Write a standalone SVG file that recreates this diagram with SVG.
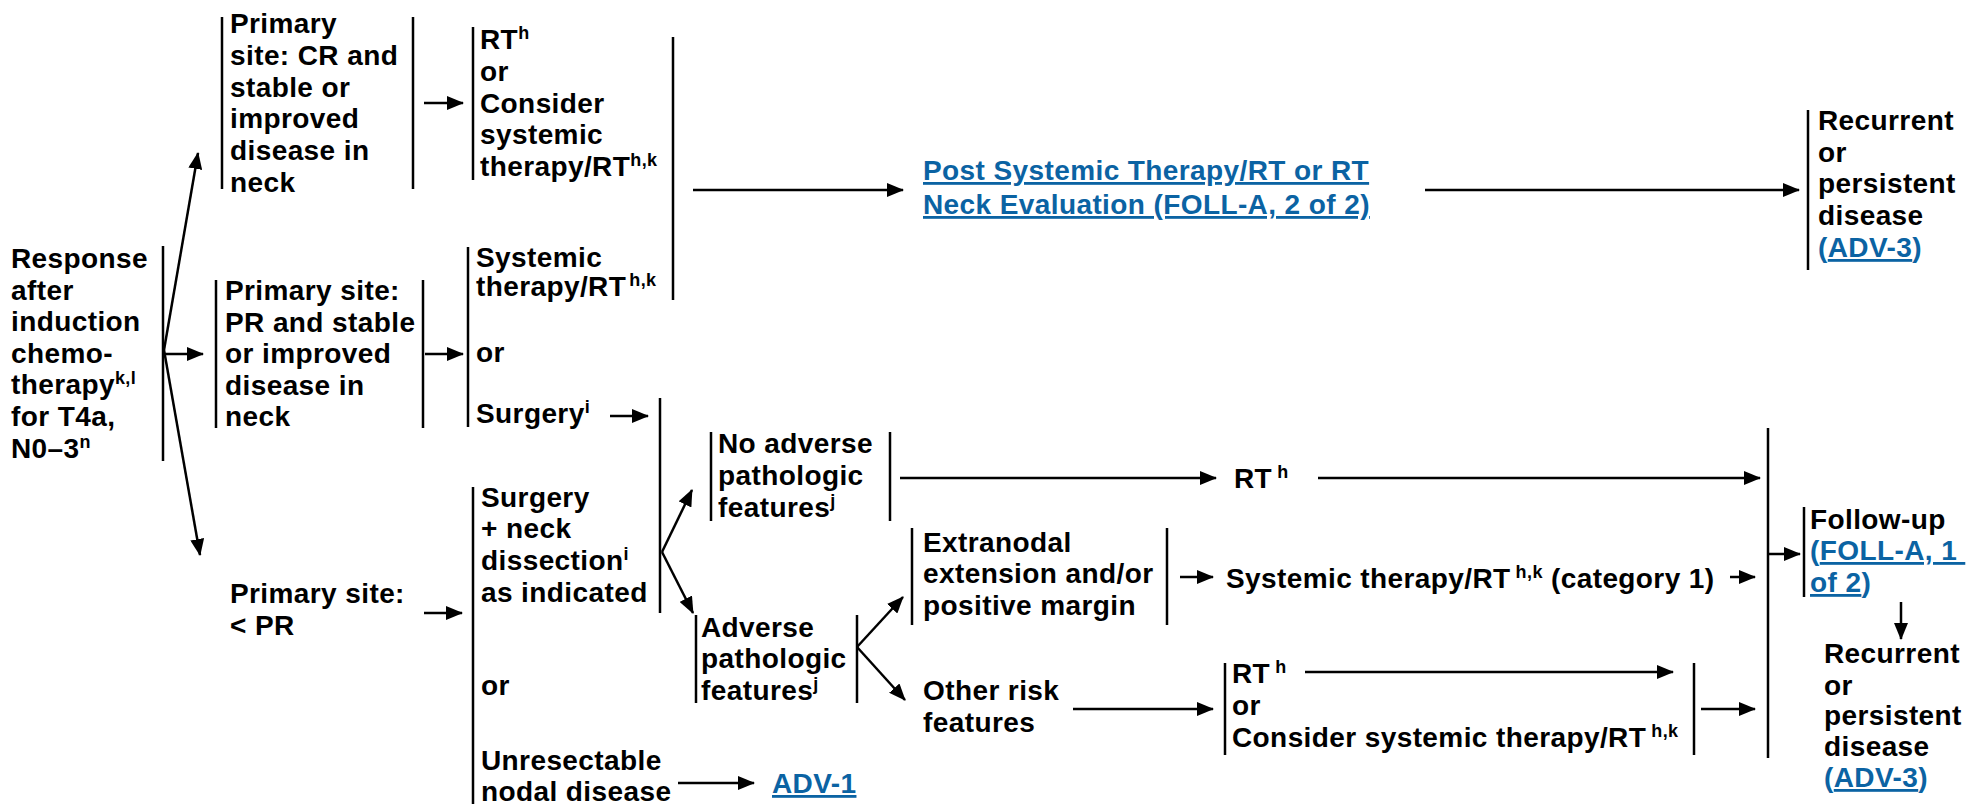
<svg xmlns="http://www.w3.org/2000/svg" width="1969" height="804" viewBox="0 0 1969 804">
<style>
.t{font-family:"Liberation Sans",Arial,Helvetica,sans-serif;font-weight:bold;font-size:28px;fill:#000;letter-spacing:0.4px}
.s{font-size:18px}
.b{fill:#0b63a3}
.u{text-decoration:underline}
.br{stroke:#000;stroke-width:2.5;fill:none}
.ar{stroke:#000;stroke-width:2.5;fill:none;marker-end:url(#ah)}
</style>
<defs>
<marker id="ah" markerUnits="userSpaceOnUse" markerWidth="17" markerHeight="14" refX="16" refY="7" orient="auto">
<path d="M0,0 L17,7 L0,14 z" fill="#000"/>
</marker>
</defs>
<rect width="1969" height="804" fill="#fff"/>

<g id="n-response">
<line class="br" x1="163" y1="246" x2="163" y2="461"/>
<text class="t" x="11" y="268">Response</text>
<text class="t" x="11" y="300">after</text>
<text class="t" x="11" y="331">induction</text>
<text class="t" x="11" y="363">chemo-</text>
<text class="t" x="11" y="394">therapy<tspan class="s" dy="-10">k,l</tspan></text>
<text class="t" x="11" y="426">for T4a,</text>
<text class="t" x="11" y="458">N0–3<tspan class="s" dy="-10">n</tspan></text>
</g>

<g id="n-cr">
<line class="br" x1="222" y1="17" x2="222" y2="189"/>
<line class="br" x1="413" y1="17" x2="413" y2="189"/>
<text class="t" x="230" y="33">Primary</text>
<text class="t" x="230" y="65">site: CR and</text>
<text class="t" x="230" y="97">stable or</text>
<text class="t" x="230" y="128">improved</text>
<text class="t" x="230" y="160">disease in</text>
<text class="t" x="230" y="192">neck</text>
</g>

<g id="n-cr-rt">
<line class="br" x1="473" y1="27" x2="473" y2="180"/>
<text class="t" x="480" y="49">RT<tspan class="s" dy="-10">h</tspan></text>
<text class="t" x="480" y="81">or</text>
<text class="t" x="480" y="113">Consider</text>
<text class="t" x="480" y="144">systemic</text>
<text class="t" x="480" y="176">therapy/RT<tspan class="s" dy="-10">h,k</tspan></text>
</g>

<g id="n-pr">
<line class="br" x1="216" y1="280" x2="216" y2="428"/>
<line class="br" x1="423" y1="280" x2="423" y2="428"/>
<text class="t" x="225" y="300">Primary site:</text>
<text class="t" x="225" y="332">PR and stable</text>
<text class="t" x="225" y="363">or improved</text>
<text class="t" x="225" y="395">disease in</text>
<text class="t" x="225" y="426">neck</text>
</g>

<g id="n-pr-tx">
<line class="br" x1="468" y1="247" x2="468" y2="427"/>
<text class="t" x="476" y="267">Systemic</text>
<text class="t" x="476" y="296">therapy/RT<tspan class="s" dx="3" dy="-10">h,k</tspan></text>
<text class="t" x="476" y="362">or</text>
<text class="t" x="476" y="423">Surgery<tspan class="s" dy="-10">i</tspan></text>
</g>

<g id="n-bracket-top">
<line class="br" x1="673" y1="37" x2="673" y2="300"/>
</g>

<g id="n-post-eval">
<text class="t b u" x="923" y="180">Post Systemic Therapy/RT or RT</text>
<text class="t b u" x="923" y="214">Neck Evaluation (FOLL-A, 2 of 2)</text>
</g>

<g id="n-recur-top">
<line class="br" x1="1808" y1="110" x2="1808" y2="270"/>
<text class="t" x="1818" y="130">Recurrent</text>
<text class="t" x="1818" y="162">or</text>
<text class="t" x="1818" y="193">persistent</text>
<text class="t" x="1818" y="225">disease</text>
<text class="t b" x="1818" y="257">(<tspan class="u">ADV-3</tspan>)</text>
</g>

<g id="n-lesspr">
<text class="t" x="230" y="603">Primary site:</text>
<text class="t" x="230" y="635">&lt; PR</text>
</g>

<g id="n-surgery-neck">
<line class="br" x1="473" y1="487" x2="473" y2="804"/>
<text class="t" x="481" y="507">Surgery</text>
<text class="t" x="481" y="538">+ neck</text>
<text class="t" x="481" y="570">dissection<tspan class="s" dy="-10">i</tspan></text>
<text class="t" x="481" y="602">as indicated</text>
<text class="t" x="481" y="695">or</text>
<text class="t" x="481" y="770">Unresectable</text>
<text class="t" x="481" y="801">nodal disease</text>
</g>

<g id="n-surg-bracket">
<line class="br" x1="660" y1="398" x2="660" y2="613"/>
</g>

<g id="n-adv1">
<text class="t b u" x="772" y="793">ADV-1</text>
</g>

<g id="n-noadverse">
<line class="br" x1="711" y1="432" x2="711" y2="521"/>
<line class="br" x1="890" y1="432" x2="890" y2="521"/>
<text class="t" x="718" y="453">No adverse</text>
<text class="t" x="718" y="485">pathologic</text>
<text class="t" x="718" y="517">features<tspan class="s" dy="-10">j</tspan></text>
</g>

<g id="n-rt-mid">
<text class="t" x="1234" y="488">RT<tspan class="s" dx="5" dy="-10">h</tspan></text>
</g>

<g id="n-adverse">
<line class="br" x1="696" y1="615" x2="696" y2="703"/>
<line class="br" x1="857" y1="615" x2="857" y2="703"/>
<text class="t" x="701" y="637">Adverse</text>
<text class="t" x="701" y="668">pathologic</text>
<text class="t" x="701" y="700">features<tspan class="s" dy="-10">j</tspan></text>
</g>

<g id="n-extranodal">
<line class="br" x1="912" y1="528" x2="912" y2="625"/>
<line class="br" x1="1167" y1="528" x2="1167" y2="625"/>
<text class="t" x="923" y="552">Extranodal</text>
<text class="t" x="923" y="583">extension and/or</text>
<text class="t" x="923" y="615">positive margin</text>
</g>

<g id="n-cat1">
<text class="t" x="1226" y="588">Systemic therapy/RT<tspan class="s" dx="5" dy="-10">h,k</tspan><tspan dy="10"> (category 1)</tspan></text>
</g>

<g id="n-other">
<text class="t" x="923" y="700">Other risk</text>
<text class="t" x="923" y="732">features</text>
</g>

<g id="n-other-tx">
<line class="br" x1="1225" y1="663" x2="1225" y2="755"/>
<line class="br" x1="1694" y1="663" x2="1694" y2="755"/>
<text class="t" x="1232" y="683">RT<tspan class="s" dx="5" dy="-10">h</tspan></text>
<text class="t" x="1232" y="715">or</text>
<text class="t" x="1232" y="747">Consider systemic therapy/RT<tspan class="s" dx="5" dy="-10">h,k</tspan></text>
</g>

<g id="n-follow-bracket">
<line class="br" x1="1768" y1="428" x2="1768" y2="758"/>
</g>

<g id="n-followup">
<line class="br" x1="1804" y1="507" x2="1804" y2="597"/>
<text class="t" x="1810" y="529">Follow-up</text>
<text class="t b" x="1810" y="560">(<tspan class="u">FOLL-A, 1&#160;</tspan></text>
<text class="t b" x="1810" y="592"><tspan class="u">of 2</tspan>)</text>
</g>

<g id="n-recur-bottom">
<text class="t" x="1824" y="663">Recurrent</text>
<text class="t" x="1824" y="695">or</text>
<text class="t" x="1824" y="725">persistent</text>
<text class="t" x="1824" y="756">disease</text>
<text class="t b" x="1824" y="787">(<tspan class="u">ADV-3</tspan>)</text>
</g>

<g id="connectors">
<line class="ar" x1="164" y1="350" x2="198" y2="153"/>
<line class="ar" x1="164" y1="354" x2="203" y2="354"/>
<line class="ar" x1="164" y1="350" x2="200" y2="555"/>
<line class="ar" x1="424" y1="103" x2="463" y2="103"/>
<line class="ar" x1="425" y1="354" x2="463" y2="354"/>
<line class="ar" x1="693" y1="190" x2="903" y2="190"/>
<line class="ar" x1="1425" y1="190" x2="1799" y2="190"/>
<line class="ar" x1="610" y1="416" x2="648" y2="416"/>
<line class="ar" x1="424" y1="613" x2="462" y2="613"/>
<line class="ar" x1="662" y1="552" x2="692" y2="490"/>
<line class="ar" x1="662" y1="552" x2="693" y2="613"/>
<line class="ar" x1="678" y1="783" x2="754" y2="783"/>
<line class="ar" x1="900" y1="478" x2="1216" y2="478"/>
<line class="ar" x1="1318" y1="478" x2="1760" y2="478"/>
<line class="ar" x1="857" y1="647" x2="903" y2="597"/>
<line class="ar" x1="857" y1="647" x2="905" y2="700"/>
<line class="ar" x1="1180" y1="577" x2="1213" y2="577"/>
<line class="ar" x1="1730" y1="577" x2="1755" y2="577"/>
<line class="ar" x1="1073" y1="709" x2="1213" y2="709"/>
<line class="ar" x1="1305" y1="672" x2="1673" y2="672"/>
<line class="ar" x1="1701" y1="709" x2="1755" y2="709"/>
<line class="ar" x1="1769" y1="554" x2="1800" y2="554"/>
<line class="ar" x1="1901" y1="602" x2="1901" y2="639"/>
</g>
</svg>
